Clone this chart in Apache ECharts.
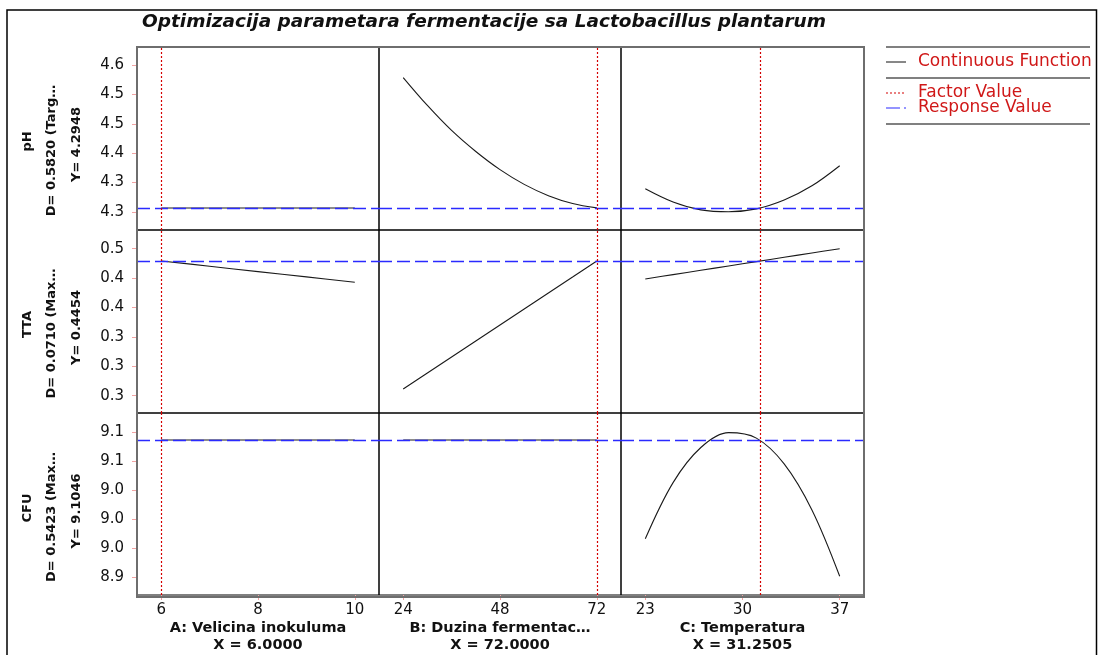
<!DOCTYPE html>
<html>
<head>
<meta charset="utf-8">
<script src="https://cdn.jsdelivr.net/npm/echarts@6/dist/echarts.min.js"></script>
<style>
  html, body { margin: 0; padding: 0; background: #fff; }
  #chart { width: 1098px; height: 655px; }
</style>
</head>
<body>
<div id="chart"></div>
<script>
// ---- Factor settings along each column ----
const factorA = [6, 7, 8, 9, 10];
const factorB = [24, 30, 36, 42, 48, 54, 60, 66, 72];
const factorC = [23, 25, 27, 29, 31, 33, 35, 37];

// ---- Predicted responses (one array per panel) ----
const phA  = [4.2948, 4.2948, 4.2948, 4.2948, 4.2948];
const phB  = [4.561, 4.504, 4.453, 4.410, 4.373, 4.343, 4.320, 4.304, 4.295];
const phC  = [4.334, 4.307, 4.291, 4.287, 4.293, 4.311, 4.340, 4.381];
const ttaA = [0.4454, 0.4382, 0.4309, 0.4237, 0.4164];
const ttaB = [0.2712, 0.2930, 0.3148, 0.3365, 0.3583, 0.3801, 0.4019, 0.4236, 0.4454];
const ttaC = [0.4209, 0.4268, 0.4327, 0.4386, 0.4445, 0.4504, 0.4562, 0.4621];
const cfuA = [9.1046, 9.1046, 9.1046, 9.1046, 9.1046];
const cfuB = [9.1046, 9.1046, 9.1046, 9.1046, 9.1046, 9.1046, 9.1046, 9.1046, 9.1046];
const cfuC = [8.978, 9.050, 9.095, 9.114, 9.107, 9.074, 9.015, 8.930];

// ---- Factors (columns) ----
const factorNames  = ['A: Velicina inokuluma', 'B: Duzina fermentac\u2026', 'C: Temperatura'];
const factorLabels = ['X = 6.0000', 'X = 72.0000', 'X = 31.2505'];
const factorValues = [6.0, 72.0, 31.2505];
const factorRanges = [[5.5, 10.5], [18, 78], [21.25, 38.75]];
const xTickValues  = [[6, 8, 10], [24, 48, 72], [23, 30, 37]];

// ---- Responses (rows) ----
const responseNames  = ['pH', 'TTA', 'CFU'];
const desirability   = ['D= 0.5820 (Targ\u2026', 'D= 0.0710 (Max\u2026', 'D= 0.5423 (Max\u2026'];
const responseLabels = ['Y= 4.2948', 'Y= 0.4454', 'Y= 9.1046'];
const responseValues = [4.2948, 0.4454, 9.1046];
const yRanges = [[4.2499, 4.6233], [0.2386, 0.4875], [8.906, 9.1392]];
const phTicks   = [4.2866, 4.3466, 4.4066, 4.4666, 4.5266, 4.5866];
const phLabels  = ['4.3', '4.3', '4.4', '4.5', '4.5', '4.6'];
const ttaTicks  = [0.2621, 0.3021, 0.3421, 0.3821, 0.4221, 0.4621];
const ttaLabels = ['0.3', '0.3', '0.3', '0.4', '0.4', '0.5'];
const cfuTicks  = [8.9292, 8.9662, 9.0032, 9.0402, 9.0772, 9.1142];
const cfuLabels = ['8.9', '9.0', '9.0', '9.0', '9.1', '9.1'];

const titleText = 'Optimizacija parametara fermentacije sa Lactobacillus plantarum';
const legendItems = ['Continuous Function', 'Factor Value', 'Response Value'];

// ---- Layout ----
const colLeft = [137, 379, 621], colWidth = [242, 242, 243];
const rowTop = [47, 230, 413], rowHeight = [183, 183, 184];
const FONT = '"DejaVu Sans", "Liberation Sans", sans-serif';
const TICK_COLOR = '#f2a3a3';
const RESP_COLOR = '#2a2aff';
const FACT_COLOR = '#d40000';

const xCols = [factorA, factorB, factorC];
const yRows = [[phA, phB, phC], [ttaA, ttaB, ttaC], [cfuA, cfuB, cfuC]];
const yTickSets = [[phTicks, phLabels], [ttaTicks, ttaLabels], [cfuTicks, cfuLabels]];

const grids = [], xAxes = [], yAxes = [], series = [];

function labelFor(ticks, labels) {
  return function (v) {
    let best = 0;
    for (let i = 1; i < ticks.length; i++) {
      if (Math.abs(ticks[i] - v) < Math.abs(ticks[best] - v)) best = i;
    }
    return labels[best];
  };
}

for (let r = 0; r < 3; r++) {
  for (let c = 0; c < 3; c++) {
    const idx = r * 3 + c;
    grids.push({
      left: colLeft[c], top: rowTop[r], width: colWidth[c], height: rowHeight[r],
      show: true, borderColor: '#000', borderWidth: 1, backgroundColor: 'transparent'
    });
    const bottom = r === 2;
    xAxes.push({
      type: 'value', gridIndex: idx,
      min: factorRanges[c][0], max: factorRanges[c][1],
      axisLine: { show: false },
      splitLine: { show: false },
      axisTick: { show: bottom, length: 5, customValues: xTickValues[c],
                  lineStyle: { color: TICK_COLOR, width: 1 } },
      axisLabel: { show: bottom, customValues: xTickValues[c], margin: 8,
                   fontFamily: FONT, fontSize: 15, color: '#111' },
      name: bottom ? factorNames[c] + '\n' + factorLabels[c] : '',
      nameLocation: 'middle', nameGap: 25,
      nameTextStyle: { fontFamily: FONT, fontWeight: 'bold', fontSize: 14.5,
                       lineHeight: 17, color: '#111' }
    });
    const left = c === 0;
    const [tv, tl] = yTickSets[r];
    yAxes.push({
      type: 'value', gridIndex: idx,
      min: yRanges[r][0], max: yRanges[r][1],
      axisLine: { show: false },
      splitLine: { show: false },
      axisTick: { show: left, length: 5, customValues: tv,
                  lineStyle: { color: TICK_COLOR, width: 1 } },
      axisLabel: { show: left, customValues: tv, margin: 13,
                   fontFamily: FONT, fontSize: 15, color: '#111',
                   formatter: labelFor(tv, tl) }
    });
    // Continuous function
    series.push({
      type: 'line', xAxisIndex: idx, yAxisIndex: idx, z: 2,
      data: xCols[c].map((x, i) => [x, yRows[r][c][i]]),
      smooth: 0.35, showSymbol: false, silent: true,
      lineStyle: { color: '#1a1a1a', width: 1.1 }
    });
    // Response value and factor value reference lines
    series.push({
      type: 'line', xAxisIndex: idx, yAxisIndex: idx, z: 5, data: [],
      markLine: {
        silent: true, symbol: 'none', animation: false, precision: 6,
        label: { show: false },
        data: [
          { yAxis: responseValues[r],
            lineStyle: { color: RESP_COLOR, type: [13, 5], width: 1.3 } },
          { xAxis: factorValues[c],
            lineStyle: { color: FACT_COLOR, type: [2, 2], width: 1.2 } }
        ]
      }
    });
  }
}

// ---- Static decorations: frame, title, row titles, legend ----
const graphic = [
  { type: 'rect', shape: { x: 7, y: 10, width: 1089.5, height: 660 },
    style: { fill: 'none', stroke: '#000', lineWidth: 1.5 }, z: 0 },
  { type: 'rect', shape: { x: 137, y: 47, width: 727, height: 550 },
    style: { fill: 'none', stroke: '#6e6e6e', lineWidth: 2 }, z: 10 },
  { type: 'text', x: 484, y: 22,
    style: { text: titleText, fontFamily: FONT, fontWeight: 'bold', fontStyle: 'italic',
             fontSize: 18.5, fill: '#111', align: 'center', verticalAlign: 'middle' } }
];

const rowTitleX = [28, 52, 77];
const rowTitleOffset = [3, 12, 6];
for (let r = 0; r < 3; r++) {
  const cy = rowTop[r] + rowHeight[r] / 2;
  [responseNames[r], desirability[r], responseLabels[r]].forEach((t, k) => {
    graphic.push({
      type: 'text', x: rowTitleX[k], y: cy + rowTitleOffset[k], rotation: Math.PI / 2,
      style: { text: t, fontFamily: FONT, fontWeight: 'bold', fontSize: 13,
               fill: '#111', align: 'center', verticalAlign: 'middle' }
    });
  });
}

// Legend box
[47, 78, 124].forEach(y => graphic.push({
  type: 'line', shape: { x1: 886, y1: y, x2: 1090, y2: y },
  style: { stroke: '#808080', lineWidth: 2 }
}));
const legendY = [62, 93, 108];
const legendStyles = [
  { stroke: '#111', lineWidth: 1 },
  { stroke: FACT_COLOR, lineWidth: 1, lineDash: [2, 2] },
  { stroke: RESP_COLOR, lineWidth: 1.2, lineDash: [14, 4] }
];
legendItems.forEach((t, i) => {
  graphic.push({ type: 'line', shape: { x1: 886, y1: legendY[i], x2: 906, y2: legendY[i] },
                 style: legendStyles[i] });
  graphic.push({ type: 'text', x: 918, y: legendY[i],
                 style: { text: t, fontFamily: FONT, fontSize: 17, fill: '#d01818',
                          align: 'left', verticalAlign: 'middle' } });
});

const chart = echarts.init(document.getElementById('chart'), null, { renderer: 'canvas' });
chart.setOption({
  animation: false,
  backgroundColor: '#fff',
  grid: grids,
  xAxis: xAxes,
  yAxis: yAxes,
  series: series,
  graphic: graphic
});
</script>
</body>
</html>
